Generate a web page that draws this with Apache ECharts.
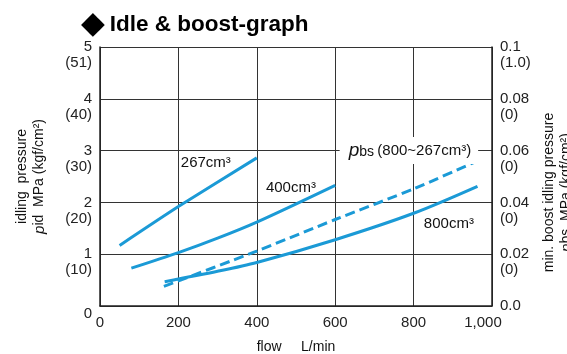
<!DOCTYPE html>
<html>
<head>
<meta charset="utf-8">
<script src="https://cdn.jsdelivr.net/npm/echarts@6/dist/echarts.min.js"></script>
<style>
  html, body { margin: 0; padding: 0; background: #fff; }
  #chart { width: 567px; height: 354px; }
</style>
</head>
<body>
<div id="chart"></div>
<script>
// flow (L/min) vs pressure
const flowTicks = ['0', '200', '400', '600', '800', '1,000'];
const leftTickMain = ['0', '1', '2', '3', '4', '5'];
const leftTickSub = ['', '(10)', '(20)', '(30)', '(40)', '(51)'];
const rightTickMain = ['0.0', '0.02', '0.04', '0.06', '0.08', '0.1'];
const rightTickSub = ['', '(0)', '(0)', '(0)', '(0)', '(1.0)'];

// idling pressure pid, MPa
const idle267 = [[50, 1.17], [200, 1.92], [400, 2.86]];
const idle400 = [[80, 0.73], [200, 1.03], [300, 1.31], [400, 1.62], [600, 2.33]];
const idle800 = [[165, 0.47], [300, 0.67], [400, 0.84], [600, 1.28], [800, 1.79], [963, 2.31]];
// min. boost idling pressure pbs, MPa (right axis)
const boostPbs = [[163, 0.0076], [400, 0.0212], [600, 0.0334], [800, 0.0452], [952, 0.0553]];

const BLUE = '#1b9ad6';
const FONT = '"Liberation Sans", Arial, "DejaVu Sans", sans-serif';

const chart = echarts.init(document.getElementById('chart'), null, { renderer: 'canvas' });

function curveLabel(text, coord) {
  return {
    symbol: 'circle',
    symbolSize: 0,
    data: [{ coord: coord, value: text }],
    label: {
      show: true,
      position: 'inside',
      color: '#111',
      fontFamily: FONT,
      fontSize: 15,
      formatter: text
    }
  };
}

const option = {
  backgroundColor: '#fff',
  animation: false,
  title: {
    left: 76,
    top: 4,
    text: '{d|◆} {t|Idle & boost-graph}',
    textStyle: {
      rich: {
        d: { fontFamily: '"DejaVu Sans", sans-serif', fontSize: 31, color: '#000' },
        t: { fontFamily: FONT, fontSize: 22.5, fontWeight: 'bold', color: '#000' }
      }
    }
  },
  grid: {
    left: 100,
    right: 75,
    top: 47,
    bottom: 48,
    outerBoundsMode: 'none'
  },
  xAxis: {
    type: 'value',
    min: 0,
    max: 1000,
    interval: 200,
    name: 'flow     L/min',
    nameLocation: 'middle',
    nameGap: 34,
    nameTextStyle: { color: '#111', fontFamily: FONT, fontSize: 14 },
    axisLine: { lineStyle: { color: '#222', width: 1.5 } },
    axisTick: { show: false },
    axisLabel: {
      color: '#222',
      fontFamily: FONT,
      fontSize: 15,
      margin: 9,
      formatter: (value, index) => index === 5 ? '{e|' + flowTicks[index] + '}' : flowTicks[index],
      rich: { e: { color: '#222', fontFamily: FONT, fontSize: 15, padding: [0, 18, 0, 0] } }
    },
    splitLine: { lineStyle: { color: '#333', width: 1 } }
  },
  yAxis: [
    {
      type: 'value',
      position: 'left',
      min: 0,
      max: 5,
      interval: 1,
      name: '{n|idling  pressure}\n{i|p}{n|id  MPa (kgf/cm²)}',
      nameLocation: 'middle',
      nameRotate: 90,
      nameGap: 52,
      nameTextStyle: {
        rich: {
          n: { color: '#111', fontFamily: FONT, fontSize: 14, lineHeight: 17 },
          i: { color: '#111', fontFamily: FONT, fontSize: 15, fontStyle: 'italic', lineHeight: 17 }
        }
      },
      axisLine: { show: true, lineStyle: { color: '#222', width: 1.5 } },
      axisTick: { show: false },
      axisLabel: {
        color: '#222',
        fontFamily: FONT,
        fontSize: 15,
        lineHeight: 16,
        margin: 8,
        // bottom label sits a little below its tick
        formatter: (value, index) => index === 0
          ? '\n' + leftTickMain[0]
          : '\n' + leftTickMain[index] + '\n' + leftTickSub[index]
      },
      splitLine: { lineStyle: { color: '#333', width: 1 } }
    },
    {
      type: 'value',
      position: 'right',
      min: 0,
      max: 0.1,
      interval: 0.02,
      name: '{n|min. boost idling pressure}\n{i|p}{n|bs  MPa (kgf/cm²)}',
      nameLocation: 'middle',
      nameRotate: 90,
      nameGap: 49,
      nameTextStyle: {
        padding: [0, 32, 0, 0],
        rich: {
          n: { color: '#111', fontFamily: FONT, fontSize: 14, lineHeight: 17 },
          i: { color: '#111', fontFamily: FONT, fontSize: 15, fontStyle: 'italic', lineHeight: 17 }
        }
      },
      axisLine: { show: true, lineStyle: { color: '#222', width: 1.5 } },
      axisTick: { show: false },
      axisLabel: {
        color: '#222',
        fontFamily: FONT,
        fontSize: 15,
        lineHeight: 16,
        margin: 8,
        formatter: (value, index) => index === 0
          ? rightTickMain[0]
          : '\n' + rightTickMain[index] + '\n' + rightTickSub[index]
      },
      splitLine: { show: false }
    }
  ],
  series: [
    {
      name: '267cm³',
      type: 'line',
      data: idle267,
      smooth: 0.2,
      symbol: 'none',
      lineStyle: { color: BLUE, width: 3 },
      markPoint: curveLabel('267cm³', [270, 2.77])
    },
    {
      name: '400cm³',
      type: 'line',
      data: idle400,
      smooth: 0.3,
      symbol: 'none',
      lineStyle: { color: BLUE, width: 3 },
      markPoint: curveLabel('400cm³', [487, 2.28])
    },
    {
      name: '800cm³',
      type: 'line',
      data: idle800,
      smooth: 0.3,
      symbol: 'none',
      lineStyle: { color: BLUE, width: 3 },
      markPoint: curveLabel('800cm³', [890, 1.58])
    },
    {
      name: 'pbs',
      type: 'line',
      yAxisIndex: 1,
      data: boostPbs,
      smooth: 0.2,
      symbol: 'none',
      lineStyle: { color: BLUE, width: 3, type: [10, 5] },
      markPoint: {
        symbol: 'circle',
        symbolSize: 0,
        data: [{ coord: [788, 0.06], value: 'pbs' }],
        label: {
          show: true,
          position: 'inside',
          backgroundColor: '#fff',
          padding: [4, 7, 4, 9],
          formatter: '{p|p}{s|bs} {t|(800~267cm³)}',
          rich: {
            p: { fontFamily: FONT, fontSize: 19, fontStyle: 'italic', color: '#111' },
            s: { fontFamily: FONT, fontSize: 14, color: '#111', padding: [4, 0, 0, 0] },
            t: { fontFamily: FONT, fontSize: 15, color: '#111' }
          }
        }
      }
    }
  ]
};

chart.setOption(option);
</script>
</body>
</html>
